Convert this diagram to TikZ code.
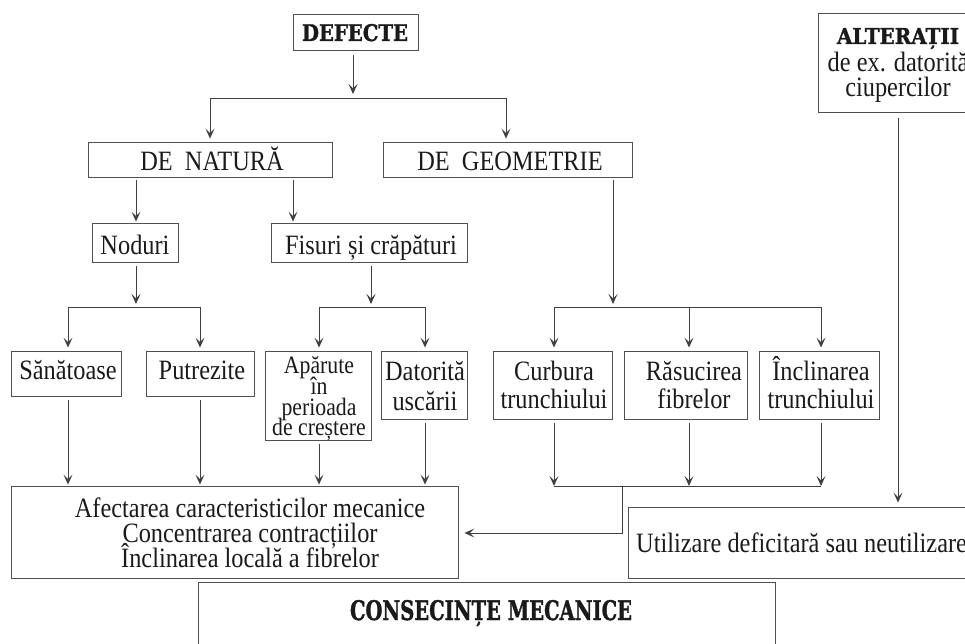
\documentclass[tikz,border=0pt]{standalone}
\usepackage{fontspec}
\usepackage{graphicx}
\setmainfont{Liberation Serif}[FakeStretch=0.87]
\newfontfamily\heavyfont{DejaVu Serif}[FakeBold=1.5]
\usetikzlibrary{arrows.meta}
\definecolor{linegray}{HTML}{404040}
\definecolor{boxgray}{HTML}{505050}
\definecolor{textblack}{HTML}{1A1A1A}
\tikzset{
  boxst/.style={draw=boxgray, line width=0.9pt, inner sep=0pt},
  txt/.style={inner sep=0pt, anchor=base, text=textblack, font=\fontsize{28}{30}\selectfont},
  smtxt/.style={txt, font=\fontsize{25}{27}\selectfont},
  hvy/.style={inner sep=0pt, anchor=base, text=textblack},
  ln/.style={draw=linegray, line width=0.9pt},
  arr/.style={ln, -{Stealth[length=10pt,width=9pt,inset=4.5pt]}},
}
\newcommand\bx[5]{\node[boxst, minimum width={#4-#2}, minimum height={#5-#3}] (#1) at ({(#2+#4)/2},{(#3+#5)/2}) {};}
\newcommand\tline[3]{\node[txt] (#1) at #2 {#3};}
\begin{document}
\begin{tikzpicture}[x=1pt,y=-1pt]
\useasboundingbox (0,0) rectangle (965,644);
\clip (0,0) rectangle (965,644);
% boxes
\bx{defecte}{293}{14}{418}{50}
\bx{alter}{818}{13}{978}{112}
\bx{natura}{88}{142}{332}{177}
\bx{geom}{383}{142}{632}{177}
\bx{noduri}{92}{223}{178}{262}
\bx{fisuri}{271}{223}{467}{262}
\bx{san}{11}{351}{121}{396}
\bx{putr}{146}{351}{254}{396}
\bx{apar}{265}{351}{371}{440}
\bx{dator}{381}{351}{467}{419}
\bx{curb}{493}{351}{612}{419}
\bx{rasuc}{624}{351}{747}{419}
\bx{incl}{759}{351}{879}{419}
\bx{afect}{11}{486}{458}{578}
\bx{util}{628}{507}{1000}{578}
\bx{cons}{198}{582}{775}{700}
% heavy titles
\node[hvy] (defecte-t) at (355,41) {\resizebox{106pt}{17pt}{\heavyfont\bfseries DEFECTE}};
\node[hvy] (alter-t1) at (898,44) {\resizebox{122pt}{16pt}{\heavyfont\bfseries ALTERAȚII}};
\node[hvy] (cons-t) at (491,620) {\resizebox{282pt}{20pt}{\heavyfont\bfseries CONSECINȚE MECANICE}};
% texts
\tline{alter-t2}{(898,72)}{de ex. datorită}
\tline{alter-t3}{(898,97)}{ciupercilor}
\tline{natura-t}{(212,171)}{DE\ \ NATURĂ}
\tline{geom-t}{(510,171)}{DE\ \ GEOMETRIE}
\tline{noduri-t}{(135,254)}{Noduri}
\tline{fisuri-t}{(371,254)}{Fisuri și crăpături}
\tline{san-t}{(68,379)}{Sănătoase}
\tline{putr-t}{(202,379)}{Putrezite}
\node[smtxt] (apar-t1) at (319,373) {Apărute};
\node[smtxt] (apar-t2) at (319,394) {în};
\node[smtxt] (apar-t3) at (319,415) {perioada};
\node[smtxt] (apar-t4) at (319,435) {de creștere};
\tline{dator-t1}{(425,380)}{Datorită}
\tline{dator-t2}{(425,410)}{uscării}
\tline{curb-t1}{(554,380)}{Curbura}
\tline{curb-t2}{(554,408)}{trunchiului}
\tline{rasuc-t1}{(694,380)}{Răsucirea}
\tline{rasuc-t2}{(694,408)}{fibrelor}
\tline{incl-t1}{(821,380)}{Înclinarea}
\tline{incl-t2}{(821,408)}{trunchiului}
\tline{afect-t1}{(250,517)}{Afectarea caracteristicilor mecanice}
\tline{afect-t2}{(250,542)}{Concentrarea contracțiilor}
\tline{afect-t3}{(250,567)}{Înclinarea locală a fibrelor}
\node[txt, anchor=base west] (util-t) at (636,552) {Utilizare deficitară sau neutilizare};
% junction coordinates
\coordinate (j0) at (353,98);
\coordinate (j0l) at (210,98);
\coordinate (j0r) at (506,98);
\coordinate (xn1) at (136,0);
\coordinate (xn2) at (293,0);
\coordinate (jn) at (136,307);
\coordinate (jnl) at (68,307);
\coordinate (jnr) at (200,307);
\coordinate (jf) at (371,307);
\coordinate (jfl) at (319,307);
\coordinate (jfr) at (425,307);
\coordinate (jg) at (613,307);
\coordinate (jgl) at (554,307);
\coordinate (jgm) at (689,307);
\coordinate (jgr) at (821,307);
\coordinate (jbl) at (554,486);
\coordinate (jbm) at (689,486);
\coordinate (jbr) at (821,486);
\coordinate (jbc) at (622,486);
\coordinate (jbe) at (622,533);
\coordinate (xa) at (898,0);
% top level
\draw[arr, shorten <=5pt, shorten >=4pt] (defecte.south -| j0) -- (j0);
\draw[ln] (j0l) -- (j0r);
\draw[arr, shorten >=3pt] (j0l) -- (natura.north -| j0l);
\draw[arr, shorten >=3pt] (j0r) -- (geom.north -| j0r);
% de natura
\draw[arr, shorten <=3pt, shorten >=1pt] (natura.south -| xn1) -- (noduri.north -| xn1);
\draw[arr, shorten <=3pt, shorten >=1pt] (natura.south -| xn2) -- (fisuri.north -| xn2);
% noduri
\draw[arr, shorten <=4pt, shorten >=3pt] (noduri.south -| jn) -- (jn);
\draw[ln] (jnl) -- (jnr);
\draw[arr, shorten >=3pt] (jnl) -- (san.north -| jnl);
\draw[arr, shorten >=3pt] (jnr) -- (putr.north -| jnr);
% fisuri
\draw[arr, shorten <=4pt, shorten >=3pt] (fisuri.south -| jf) -- (jf);
\draw[ln] (jfl) -- (jfr);
\draw[arr, shorten >=3pt] (jfl) -- (apar.north -| jfl);
\draw[arr, shorten >=3pt] (jfr) -- (dator.north -| jfr);
% geometrie
\draw[arr, shorten <=3pt, shorten >=3pt] (geom.south -| jg) -- (jg);
\draw[ln] (jgl) -- (jgr);
\draw[arr, shorten >=3pt] (jgl) -- (curb.north -| jgl);
\draw[arr, shorten >=3pt] (jgm) -- (rasuc.north -| jgm);
\draw[arr, shorten >=3pt] (jgr) -- (incl.north -| jgr);
% to afectarea
\draw[arr, shorten <=4pt, shorten >=1pt] (san.south -| jnl) -- (afect.north -| jnl);
\draw[arr, shorten <=4pt, shorten >=1pt] (putr.south -| jnr) -- (afect.north -| jnr);
\draw[arr, shorten <=4pt, shorten >=1pt] (apar.south -| jfl) -- (afect.north -| jfl);
\draw[arr, shorten <=4pt, shorten >=1pt] (dator.south -| jfr) -- (afect.north -| jfr);
% geometrie group down
\draw[arr, shorten <=4pt] (curb.south -| jbl) -- (jbl);
\draw[arr, shorten <=4pt] (rasuc.south -| jbm) -- (jbm);
\draw[arr, shorten <=4pt] (incl.south -| jbr) -- (jbr);
\draw[ln] (jbl) -- (jbr);
\draw[arr, shorten >=6pt] (jbc) -- (jbe) -- (afect.east |- jbe);
% alteratii
\draw[arr, shorten <=6pt, shorten >=4pt] (alter.south -| xa) -- (util.north -| xa);
\end{tikzpicture}
\end{document}
